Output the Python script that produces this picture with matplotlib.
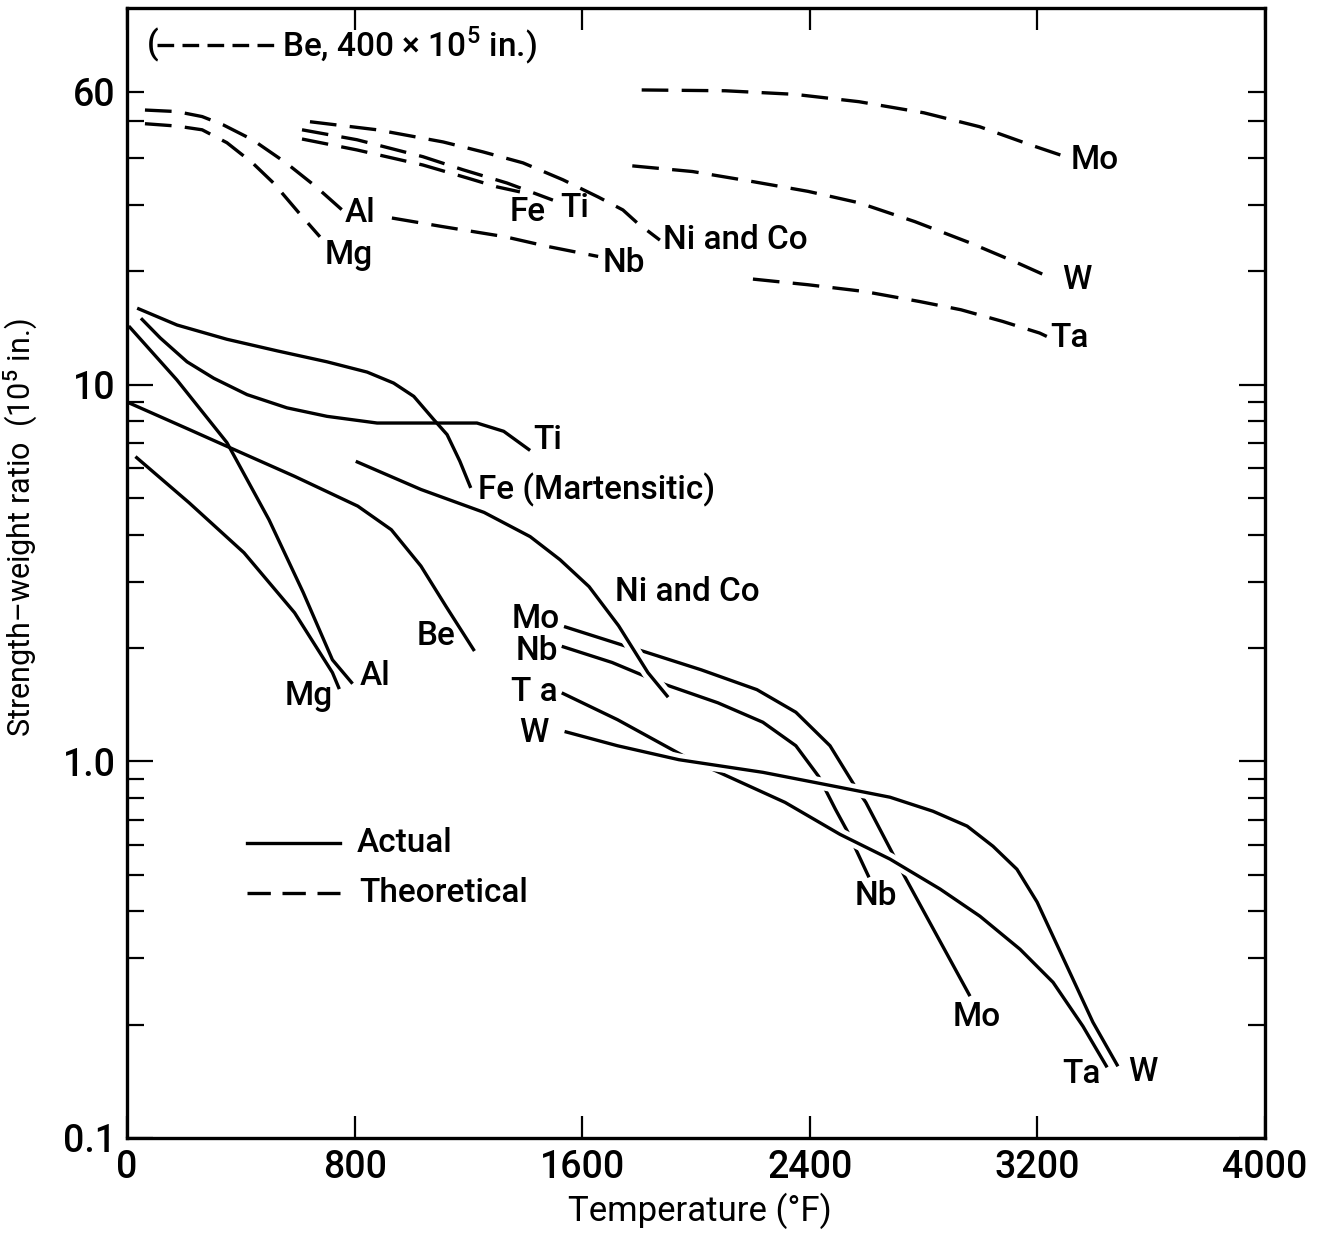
import matplotlib
matplotlib.use('Agg')
import matplotlib.pyplot as plt
import matplotlib.patheffects as pe
from matplotlib.ticker import FixedLocator, FixedFormatter

plt.rcParams['font.family'] = ['Roboto', 'DejaVu Sans']
plt.rcParams['font.weight'] = 'medium'
plt.rcParams['mathtext.fontset'] = 'custom'
plt.rcParams['mathtext.rm'] = 'Roboto:medium'

# ---- theoretical strength-weight ratios (10^5 in.) vs temperature (F) ----
mo_theo_t = [1809, 2103, 2347, 2573, 2801, 2997, 3176, 3290]
mo_theo_r = [60.6, 60.3, 59.0, 56.4, 52.7, 48.4, 43.3, 40.5]
w_theo_t = [1776, 1988, 2200, 2394, 2573, 2769, 2963, 3127, 3248]
w_theo_r = [38.1, 36.8, 34.6, 32.6, 30.4, 27.1, 23.8, 21.1, 19.2]
ta_theo_t = [2200, 2394, 2591, 2785, 2931, 3078, 3208, 3233]
ta_theo_r = [19.07, 18.42, 17.68, 16.63, 15.81, 14.72, 13.71, 13.43]
nico_theo_t = [643, 879, 1111, 1251, 1392, 1532, 1656, 1743, 1793, 1873]
nico_theo_r = [49.9, 47.5, 44.1, 41.5, 38.8, 35.0, 31.5, 29.1, 26.9, 24.2]
ti_theo_t = [615, 808, 1040, 1181, 1336, 1497]
ti_theo_r = [47.5, 44.7, 40.3, 37.2, 34.3, 30.9]
fe_theo_t = [615, 808, 1040, 1195, 1301, 1381]
fe_theo_r = [44.9, 42.0, 38.3, 35.4, 33.5, 32.5]
nb_theo_t = [931, 1107, 1329, 1476, 1656]
nb_theo_r = [27.7, 26.3, 24.7, 23.3, 21.9]
al_theo_t = [63, 175, 264, 337, 441, 559, 663, 756]
al_theo_r = [53.6, 53.1, 51.5, 49.0, 44.7, 38.8, 33.6, 29.1]
mg_theo_t = [63, 175, 264, 351, 441, 515, 604, 678]
mg_theo_r = [49.3, 48.6, 47.5, 43.9, 38.8, 34.3, 28.6, 24.7]

# ---- actual ----
fe_t = [41, 176, 351, 527, 703, 844, 937, 1008, 1078, 1125, 1170, 1206]
fe_r = [15.9, 14.4, 13.2, 12.3, 11.5, 10.8, 10.1, 9.31, 8.08, 7.37, 6.26, 5.37]
ti_t = [53, 117, 211, 305, 422, 562, 703, 879, 1054, 1230, 1324, 1412]
ti_r = [14.9, 13.3, 11.5, 10.4, 9.41, 8.68, 8.24, 7.91, 7.91, 7.91, 7.52, 6.73]
al_t = [10, 175, 351, 499, 619, 722, 789]
al_r = [14.2, 10.3, 7.02, 4.38, 2.81, 1.86, 1.62]
mg_t = [34, 218, 411, 589, 722, 744]
mg_r = [6.40, 4.86, 3.58, 2.48, 1.72, 1.57]
be_t = [5, 219, 351, 589, 811, 929, 1033, 1121, 1218]
be_r = [8.96, 7.60, 6.86, 5.71, 4.76, 4.12, 3.30, 2.58, 1.98]
nico_t = [804, 1033, 1255, 1417, 1522, 1624, 1728, 1831, 1902]
nico_r = [6.26, 5.27, 4.58, 3.95, 3.43, 2.91, 2.29, 1.72, 1.48]
mo_t = [1536, 1764, 1814, 2018, 2214, 2351, 2471, 2559, 2597, 2696, 2735, 2963]
mo_r = [2.28, 2.01, 1.96, 1.75, 1.55, 1.35, 1.10, 0.858, 0.778, 0.560, 0.492, 0.238]
nb_t = [1528, 1705, 1831, 1891, 2077, 2235, 2351, 2431, 2490, 2534, 2608]
nb_r = [2.02, 1.83, 1.67, 1.60, 1.43, 1.27, 1.10, 0.912, 0.746, 0.648, 0.492]
ta_t = [1528, 1724, 1960, 2058, 2313, 2506, 2682, 2858, 2998, 3139, 3255, 3360, 3445]
ta_r = [1.52, 1.29, 1.03, 0.952, 0.778, 0.640, 0.550, 0.458, 0.388, 0.317, 0.259, 0.198,
        0.154]
w_t = [1538, 1724, 1940, 2235, 2506, 2682, 2833, 2953, 3044, 3128, 3199, 3255, 3325,
       3395, 3483]
w_r = [1.20, 1.10, 1.01, 0.935, 0.853, 0.803, 0.737, 0.673, 0.595, 0.517, 0.423, 0.343,
       0.264, 0.203, 0.155]

x_ticks = [0, 800, 1600, 2400, 3200, 4000]
y_major = [0.1, 1.0, 10]
y_major_labels = ['0.1', '1.0', '10']
y_minor = [0.2, 0.3, 0.4, 0.5, 0.6, 0.7, 0.8, 0.9,
           2, 3, 4, 5, 6, 7, 8, 9, 20, 30, 40, 50, 60]

LW = 2.4
DASH = (8, 4)
LBL = 24

fig = plt.figure(figsize=(13.26, 12.34), dpi=100)
ax = fig.add_axes([0.0958, 0.0778, 0.8582, 0.9157])
ax.set_yscale('log')
ax.set_xlim(0, 4000)
ax.set_ylim(0.1, 100)

theo = [(mo_theo_t, mo_theo_r), (w_theo_t, w_theo_r), (ta_theo_t, ta_theo_r),
        (nico_theo_t, nico_theo_r), (ti_theo_t, ti_theo_r), (fe_theo_t, fe_theo_r),
        (nb_theo_t, nb_theo_r), (al_theo_t, al_theo_r), (mg_theo_t, mg_theo_r)]
for t, r in theo:
    ax.plot(t, r, color='black', lw=LW, linestyle=(0, DASH), dash_capstyle='butt')

for t, r in [(fe_t, fe_r), (ti_t, ti_r), (al_t, al_r), (mg_t, mg_r), (be_t, be_r)]:
    ax.plot(t, r, color='black', lw=LW, solid_joinstyle='round')

# lines drawn later break the ones below them (white halo), like the original
halo = [pe.Stroke(linewidth=9, foreground='white', capstyle='butt'), pe.Normal()]
for t, r in [(mo_t, mo_r), (nb_t, nb_r), (ta_t, ta_r), (w_t, w_r), (nico_t, nico_r)]:
    ax.plot(t, r, color='black', lw=LW, path_effects=halo, solid_capstyle='butt',
            solid_joinstyle='round')

# curve labels
labels = [
    ('Mo', 3315, 39.5, 'left'), ('W', 3286, 19.0, 'left'), ('Ta', 3244, 13.3, 'left'),
    ('Ni and Co', 1884, 24.2, 'left'), ('Nb', 1673, 21.1, 'left'),
    ('Fe', 1346, 28.8, 'left'), ('Ti', 1522, 29.5, 'left'),
    ('Al', 766, 28.6, 'left'), ('Mg', 696, 22.1, 'left'),
    ('Ti', 1427, 7.15, 'left'), ('Fe (Martensitic)', 1234, 5.27, 'left'),
    ('Al', 819, 1.69, 'left'), ('Mg', 555, 1.49, 'left'), ('Be', 1019, 2.15, 'left'),
    ('Ni and Co', 1715, 2.82, 'left'),
    ('Mo', 1522, 2.38, 'right'), ('Nb', 1515, 1.96, 'right'),
    ('T a', 1515, 1.53, 'right'), ('W', 1480, 1.19, 'right'),
    ('Nb', 2559, 0.438, 'left'), ('Mo', 2903, 0.209, 'left'),
    ('Ta', 3286, 0.148, 'left'), ('W', 3518, 0.150, 'left'),
]
for s, x, y, ha in labels:
    ax.text(x, y, s, fontsize=LBL, ha=ha, va='center')

# Be theoretical note at top
ax.text(0.0176, 0.967, '(', transform=ax.transAxes, fontsize=LBL, ha='left', va='center')
ax.plot([0.026, 0.130], [0.967, 0.967], transform=ax.transAxes, color='black', lw=LW,
        linestyle=(0, (5, 2.5)), dash_capstyle='butt')
ax.text(0.136, 0.967, r'Be, 400 $\times$ 10$^5$ in.)', transform=ax.transAxes,
        fontsize=LBL, ha='left', va='center')

# key
ax.plot([0.105, 0.187], [0.261, 0.261], transform=ax.transAxes, color='black', lw=LW)
ax.plot([0.105, 0.187], [0.217, 0.217], transform=ax.transAxes, color='black', lw=LW,
        linestyle=(0, (7, 3.5)), dash_capstyle='butt')
ax.text(0.202, 0.261, 'Actual', transform=ax.transAxes, fontsize=LBL, va='center')
ax.text(0.204, 0.217, 'Theoretical', transform=ax.transAxes, fontsize=LBL, va='center')

# axes, ticks
ax.set_xticks(x_ticks)
ax.set_xticklabels([str(v) for v in x_ticks])
ax.yaxis.set_major_locator(FixedLocator(y_major))
ax.yaxis.set_major_formatter(FixedFormatter(y_major_labels))
ax.yaxis.set_minor_locator(FixedLocator(y_minor))
ax.yaxis.set_minor_formatter(FixedFormatter(['60' if v == 60 else '' for v in y_minor]))
ax.xaxis.set_minor_locator(FixedLocator([]))
ax.tick_params(axis='both', which='both', direction='in', top=True, right=True,
               width=1.6, labelsize=27, pad=8)
ax.tick_params(axis='x', which='major', length=16)
ax.tick_params(axis='y', which='major', length=19)
ax.tick_params(axis='y', which='minor', length=12)
for sp in ax.spines.values():
    sp.set_linewidth(2.4)

ax.set_xlabel('Temperature (°F)', fontsize=25)
ax.xaxis.set_label_coords(0.503, -0.048)
ax.set_ylabel('Strength–weight ratio  (10$^5$ in.)', fontsize=22)
ax.yaxis.set_label_coords(-0.077, 0.54)

fig.savefig('out.png', dpi=100)
